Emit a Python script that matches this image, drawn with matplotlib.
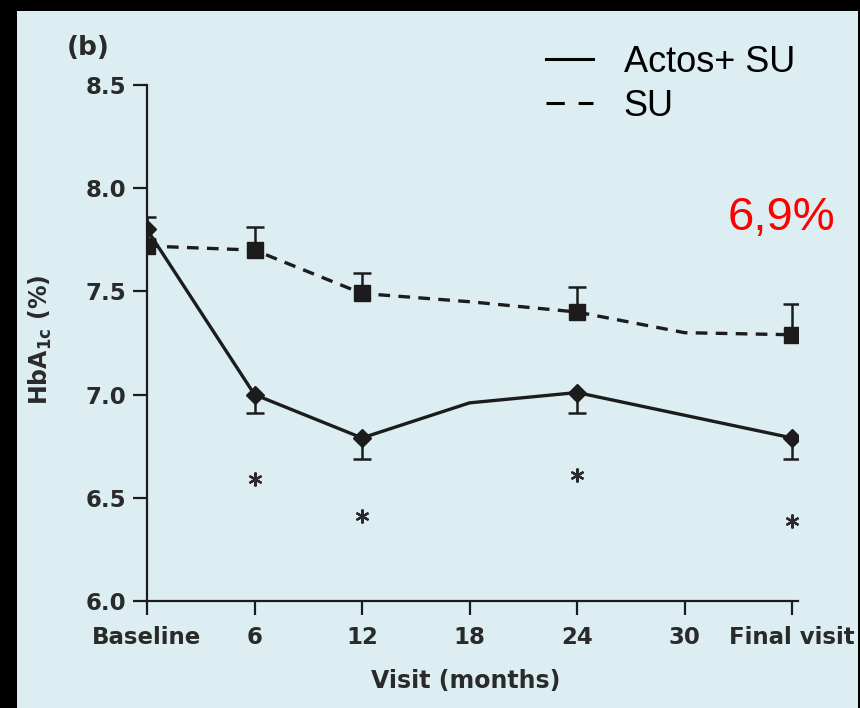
import matplotlib.pyplot as plt
import numpy as np
from matplotlib.lines import Line2D
from matplotlib.patches import Rectangle

# tick positions (months) and labels
visit_ticks = [0, 6, 12, 18, 24, 30, 36]
visit_labels = ['Baseline', '6', '12', '18', '24', '30', 'Final visit']

# Actos + SU (solid line, diamonds)
actos_months = [0, 6, 12, 18, 24, 36]
actos_hba1c = [7.80, 7.00, 6.79, 6.96, 7.01, 6.79]
actos_marker = [True, True, True, False, True, True]
actos_err_low = [0.0, 0.09, 0.10, 0.0, 0.10, 0.10]
actos_err_up = [0.06, 0.0, 0.0, 0.0, 0.0, 0.0]

# SU alone (dashed line, squares)
su_months = [0, 6, 12, 18, 24, 30, 36]
su_hba1c = [7.72, 7.70, 7.49, 7.45, 7.40, 7.30, 7.29]
su_marker = [True, True, True, False, True, False, True]
su_err_up = [0.03, 0.11, 0.10, 0.0, 0.12, 0.0, 0.15]

# significance stars
star_months = [6, 12, 24, 36]
star_hba1c = [6.59, 6.41, 6.61, 6.39]

ink = '#1c1c1c'
label_col = '#2a2a2a'
bg = '#ddeef2'
bold_font = 'DejaVu Sans'

plt.rcParams['font.family'] = ['Liberation Sans', 'DejaVu Sans']

fig = plt.figure(figsize=(8.6, 7.08), dpi=100, facecolor='black')
fig.patches.append(Rectangle((17 / 860, 0), (858 - 17) / 860, (708 - 11) / 708,
                             transform=fig.transFigure, facecolor=bg,
                             edgecolor='none', zorder=-10))

ax = fig.add_axes([147 / 860, 107 / 708, (798 - 147) / 860, (601 - 85) / 708])
ax.set_facecolor('none')
ax.set_zorder(5)


def draw_errs(x, y, lo, up):
    x = np.array(x, dtype=float)
    y = np.array(y, dtype=float)
    for d, sign in ((np.array(lo), -1), (np.array(up), 1)):
        m = d > 0
        ends = y[m] + sign * d[m]
        ax.vlines(x[m], y[m], ends, color=ink, lw=1.8, zorder=2)
        ax.plot(x[m], ends, ls='none', marker='_', ms=13, mew=1.8,
                color=ink, zorder=2)


draw_errs(actos_months, actos_hba1c, actos_err_low, actos_err_up)
draw_errs(su_months, su_hba1c, [0] * len(su_months), su_err_up)

ax.plot(su_months, su_hba1c, color=ink, lw=2.4, ls=(0, (3.5, 2.5)),
        marker='s', ms=11, markevery=list(np.where(su_marker)[0]), zorder=3)
ax.plot(actos_months, actos_hba1c, color=ink, lw=2.4, ls='-',
        marker='D', ms=9, markevery=list(np.where(actos_marker)[0]), zorder=4)

# asterisks as line markers so they sit centred on their values
ax.plot(star_months, star_hba1c, ls='none', marker=(6, 2, 0), ms=10,
        mew=1.6, color=label_col)

ax.set_xlim(0, 36.33)
ax.set_ylim(6.0, 8.5)
ax.set_xticks(visit_ticks)
ax.set_xticklabels(visit_labels)
ax.set_yticks([6.0, 6.5, 7.0, 7.5, 8.0, 8.5])
ax.set_yticklabels(['6.0', '6.5', '7.0', '7.5', '8.0', '8.5'])
for s in ['top', 'right']:
    ax.spines[s].set_visible(False)
for s in ['left', 'bottom']:
    ax.spines[s].set_linewidth(1.6)
    ax.spines[s].set_color(ink)
ax.tick_params(axis='both', direction='out', length=10, width=1.6, color=ink,
               labelsize=16.5, labelcolor=label_col)
ax.tick_params(axis='x', pad=8)
ax.tick_params(axis='y', pad=5)
for t in ax.get_xticklabels() + ax.get_yticklabels():
    t.set_fontweight('bold')
    t.set_family(bold_font)

fig.text(466 / 860, 1 - 681 / 708, 'Visit (months)', ha='center', va='center',
         fontsize=17, fontweight='bold', color=label_col, family=bold_font)
fig.text(40 / 860, 1 - 340 / 708, r'HbA$_{\mathbf{1c}}$ (%)', rotation=90,
         ha='center', va='center', fontsize=17, fontweight='bold',
         color=label_col, family=bold_font)
fig.text(88 / 860, 1 - 48 / 708, '(b)', ha='center', va='center',
         fontsize=19, fontweight='bold', color=label_col, family=bold_font)

fig.text(781 / 860, 1 - 218 / 708, '6,9%', ha='center', va='center',
         fontsize=34, color='red')

handles = [Line2D([], [], color='black', lw=2.2),
           Line2D([], [], color='black', lw=2.2, ls=(0, (6, 4.5)))]
fig.legend(handles, ['Actos+ SU', 'SU'], loc='upper left',
           bbox_to_anchor=(546 / 860, 1 - 45 / 708), frameon=False,
           fontsize=26, handlelength=1.3, handletextpad=0.85,
           labelspacing=0.25, borderpad=0, borderaxespad=0)

fig.savefig('out.png', dpi=100, facecolor='black')
